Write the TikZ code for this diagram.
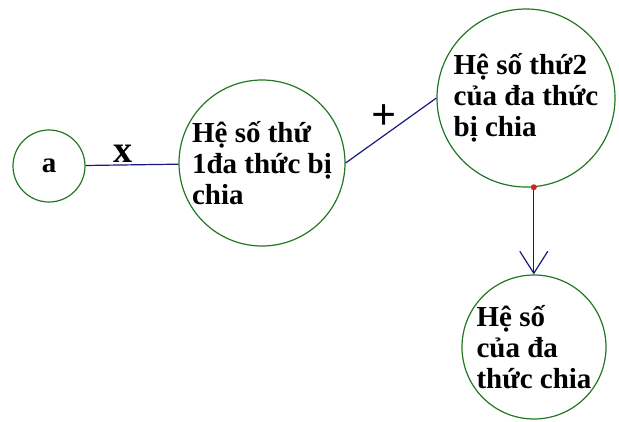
\documentclass[tikz,border=0pt]{standalone}
\usepackage{fontspec}
\setmainfont{Liberation Serif}
\usetikzlibrary{arrows.meta}
\definecolor{hsgreen}{RGB}{34,120,34}
\definecolor{hsblue}{RGB}{25,25,125}
\definecolor{hsred}{RGB}{220,30,30}

\begin{document}
\begin{tikzpicture}[x=1pt, y=-1pt,
    hs/.style={circle, draw=hsgreen, line width=1.2pt, inner sep=0pt, align=left,
        font=\bfseries\fontsize{29}{31}\selectfont},
    noi/.style={draw=hsblue, line width=1.2pt},
    dau/.style={font=\bfseries\fontsize{38}{38}\selectfont, inner sep=2pt}]
    \useasboundingbox (0,0) rectangle (619,421);
    % cac o he so
    \node[hs, minimum size=72] (a) at (49,166) {a};
    \node[hs, minimum size=166] (c1) at (262,163) {Hệ số thứ\\1đa thức bị\\chia};
    \node[hs, minimum size=178] (c2) at (526,98) {Hệ số thứ2\\của đa thức\\bị chia};
    \node[hs, minimum size=144] (c3) at (534,347) {Hệ số\\của đa\\thức chia};
    % noi cac o
    \draw[noi] (a) -- (c1) node[dau, pos=0.4, above=0pt] {x};
    \draw[noi] (c1.east) -- (c2.west) node[dau, font=\bfseries\fontsize{44}{44}\selectfont, pos=0.42, above=4pt] {+};
    \draw[noi, -{Straight Barb[length=22pt, width=28pt]}] (c2.-85) -- (c2.-85 |- c3.north);
    \fill[hsred] (c2.-85) circle (3pt);
\end{tikzpicture}
\end{document}
